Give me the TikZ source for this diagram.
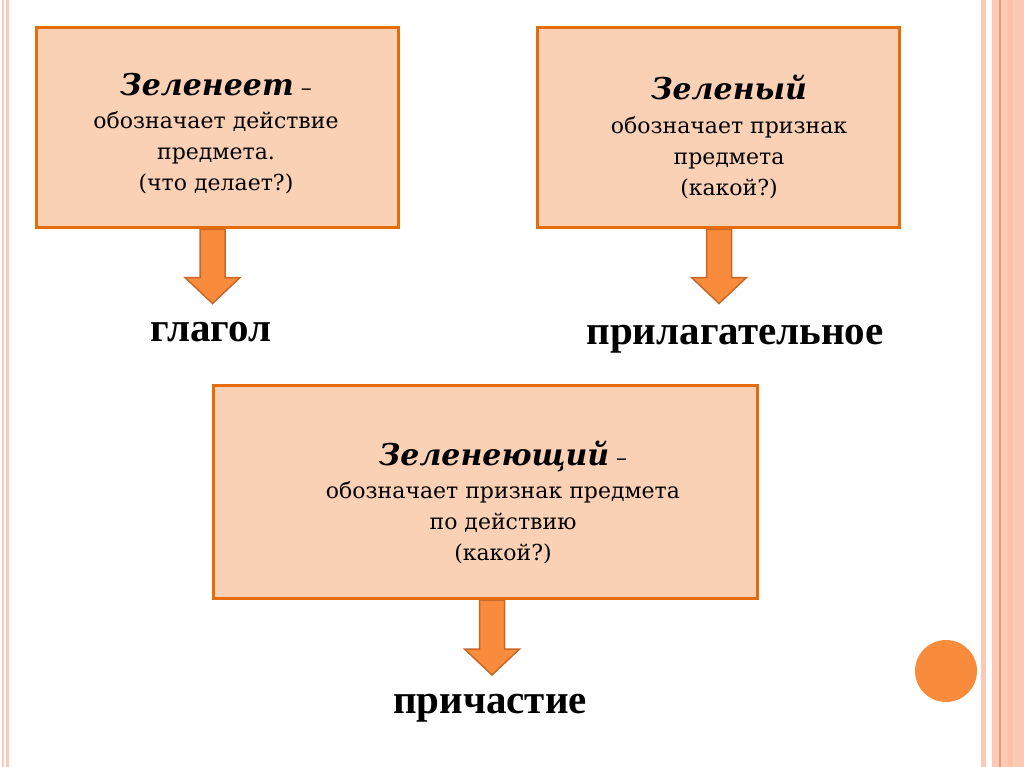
\documentclass[tikz,border=0pt]{standalone}
\usepackage{fontspec}
\setmainfont{DejaVu Serif}
\newfontfamily\labelfont{Liberation Serif}
\usetikzlibrary{positioning, calc, backgrounds}
\definecolor{boxfill}{HTML}{FBD1B5}
\definecolor{boxline}{HTML}{E46C0A}
\definecolor{arrowfill}{HTML}{F98B3C}
\definecolor{arrowline}{HTML}{C8672A}
\definecolor{stripe}{HTML}{FBCAB6}
\definecolor{stripedark}{HTML}{EA9A70}

\tikzset{
  panel/.style={draw=boxline, fill=boxfill, line width=3pt, inner sep=0pt},
  paneltext/.style={align=center, inner sep=0pt, anchor=north, font=\fontsize{22}{31}\selectfont},
  fatarrow/.style={draw=arrowline, fill=arrowfill, line width=1.5pt, line join=miter},
  posname/.style={font=\labelfont\bfseries\fontsize{41}{41}\selectfont, inner sep=0pt, anchor=base}
}
\newcommand{\heading}[1]{{\fontsize{30}{31}\selectfont\bfseries\itshape #1}}

\begin{document}
\begin{tikzpicture}[x=1pt, y=-1pt]
    \useasboundingbox (0,0) rectangle (1024,767);

    % polosy po krayam
    \fill[stripe] (2,0) rectangle (4,767);
    \fill[stripe] (6,0) rectangle (9,767);
    \fill[stripe] (981,0) rectangle (986,767);
    \fill[stripe] (992,0) rectangle (1024,767);
    \fill[stripe!85!arrowfill] (1008,0) rectangle (1013,767);
    \draw[stripedark, line width=1.2pt] (1000,0) -- (1000,767);

    % krug
    \fill[arrowfill] (946,671) circle (31pt);

    % ramki
    \node[panel, minimum width=362pt, minimum height=200pt] (verb) at (217,128) {};
    \node[paneltext] (verbtxt) at (216,73)
        {\heading{Зеленеет} –\\[2pt] обозначает действие\\ предмета.\\ (что делает?)};

    \node[panel, minimum width=362pt, minimum height=200pt] (adj) at (718.5,128) {};
    \node[paneltext] (adjtxt) at (729,75)
        {\heading{Зеленый}\\[3pt] обозначает признак\\ предмета\\ (какой?)};

    \node[panel, minimum width=544pt, minimum height=213pt] (part) at (485.5,492) {};
    \node[paneltext] (parttxt) at (503,441)
        {\heading{Зеленеющий} –\\[2pt] обозначает признак предмета\\ по действию\\ (какой?)};

    % strelki
    \begin{scope}[on background layer]
        \draw[fatarrow] ($(verb.south)+(-17,0)$) -- ++(0,48) -- ++(-15,0) -- ++(27.5,26)
            -- ++(27.5,-26) -- ++(-15,0) -- ++(0,-48) -- cycle;
        \draw[fatarrow] ($(adj.south)+(-12,0)$) -- ++(0,48) -- ++(-15,0) -- ++(27.5,26)
            -- ++(27.5,-26) -- ++(-15,0) -- ++(0,-48) -- cycle;
        \draw[fatarrow] ($(part.south)+(-6,0)$) -- ++(0,49) -- ++(-15,0) -- ++(27.5,26)
            -- ++(27.5,-26) -- ++(-15,0) -- ++(0,-49) -- cycle;
    \end{scope}

    % chasti rechi
    \node[posname] (verbpos) at (211,341) {глагол};
    \node[posname] (adjpos) at (735,344) {прилагательное};
    \node[posname] (partpos) at (490,713) {причастие};
\end{tikzpicture}
\end{document}
